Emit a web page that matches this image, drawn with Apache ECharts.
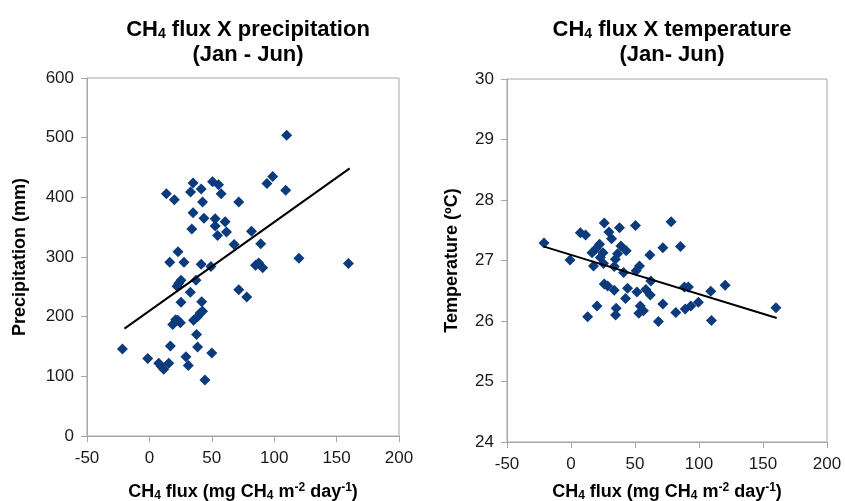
<!DOCTYPE html>
<html>
<head>
<meta charset="utf-8">
<script src="https://cdn.jsdelivr.net/npm/echarts@6/dist/echarts.min.js"></script>
<style>
  html, body { margin: 0; padding: 0; background: #fff; }
  #chart { width: 845px; height: 501px; }
</style>
</head>
<body>
<div id="chart"></div>
<script>
// CH4 flux vs precipitation (Jan - Jun)
const precipFlux = [110, 13.6, 20, 35, 41.5, 33, 50.6, 55.4, 57.5, 42.6, 71.6, 35, 43.7, 52.7, 60.7, 52.7, 34, 61.8, 54.6, 81.8,
  94.2, 98.8, 109.2, 67.9, 89.2, 22.9, 16.3, 27.7, 41.5, 49.3, 119.8, 159.5, 87.6, 85, 90.8, 25.3, 23.5, 22.1, 37.3, 32.8,
  25.3, 41.9, 71.6, 78, 22.7, 18.7, 24.8, 21, 35.4, 38.6, 40.7, 42.6, 37.8, 16.8, 38.6, 50, -21.6, -1.3, 29.3, 7.5,
  15.5, 11.5, 9.4, 31.2, 44.5];
const precipMm = [504, 406, 396, 424, 414, 409, 426, 421, 406, 392, 392, 374, 365, 364, 359, 352, 347, 342, 336, 343,
  423, 435, 412, 321, 322, 309, 291, 291, 288, 284, 298, 289, 290, 286, 282, 261, 256, 251, 261, 241,
  224, 225, 245, 233, 194, 187, 190, 195, 194, 200, 206, 209, 170, 151, 149, 139, 146, 130, 133, 122,
  122, 112, 117, 118, 94];
const precipTrendX = [-20, 160.5];
const precipTrendY = [180, 448.5];

// CH4 flux vs temperature (Jan - Jun)
const tempFlux = [-21.1, -0.8, 7.3, 11.4, 13, 20.3, 26, 29.6, 31.7, 37.9, 50.4, 78.2, 71.8, 85.5, 61.6, 22.3, 19.7, 16.4, 25, 22.9,
  17.6, 25.4, 39, 43.1, 36.4, 34.6, 33.8, 41.1, 53.5, 50.9, 62.4, 26, 28.6, 33.8, 44.2, 51.5, 58.5, 61.9, 42.6, 35.3,
  34.8, 54.1, 53, 56.6, 68.3, 71.8, 81.9, 88.6, 91.7, 89.2, 93.6, 99.5, 109.2, 109.7, 120.4, 160.1];
const tempC = [27.29, 27.01, 27.46, 27.42, 26.07, 26.25, 27.62, 27.47, 27.36, 27.54, 27.58, 27.64, 27.21, 27.23, 27.09, 27.27, 27.2, 27.13, 27.13, 27.05,
  26.91, 26.95, 27.24, 27.16, 27.11, 27.02, 26.9, 26.8, 26.91, 26.83, 26.66, 26.61, 26.58, 26.51, 26.54, 26.48, 26.52, 26.43, 26.37, 26.21,
  26.1, 26.25, 26.13, 26.17, 25.99, 26.28, 26.14, 26.56, 26.56, 26.2, 26.25, 26.31, 26.49, 26.01, 26.59, 26.22];
const tempTrendX = [-21, 160.7];
const tempTrendY = [27.23, 26.05];

const xTicks = { min: -50, max: 200, interval: 50 };

const FONT = 'Liberation Sans, Arial, Helvetica, sans-serif';
const MARK = '#0b3b7c';
const AXIS = '#a6a6a6';

const zip = (xs, ys) => xs.map((x, i) => [x, ys[i]]);

const titleRich = {
  a: { fontSize: 22, fontWeight: 'bold', fontFamily: FONT, color: '#000', lineHeight: 25 },
  s: { fontSize: 14, fontWeight: 'bold', fontFamily: FONT, color: '#000', lineHeight: 25, padding: [10, 0, 0, 0] }
};

const nameRich = {
  a: { fontSize: 18, fontWeight: 'bold', fontFamily: FONT, color: '#000', lineHeight: 22 },
  s: { fontSize: 12, fontWeight: 'bold', fontFamily: FONT, color: '#000', lineHeight: 22, padding: [8, 0, 0, 0] },
  p: { fontSize: 12, fontWeight: 'bold', fontFamily: FONT, color: '#000', lineHeight: 22, padding: [0, 0, 8, 0] }
};
const fluxName = '{a|CH}{s|4}{a| flux (mg CH}{s|4}{a| m}{p|-2}{a| day}{p|-1}{a|)}';

function xAxisFor(gridIndex, gap) {
  return {
    type: 'value',
    gridIndex: gridIndex,
    min: xTicks.min, max: xTicks.max, interval: xTicks.interval,
    name: fluxName,
    nameLocation: 'middle',
    nameGap: gap,
    nameTextStyle: { rich: nameRich },
    axisLine: { show: true, onZero: false, lineStyle: { color: AXIS, width: 1 } },
    axisTick: { show: true, inside: false, length: 6, lineStyle: { color: AXIS } },
    axisLabel: { fontSize: 17, fontFamily: FONT, color: '#1a1a1a', margin: 14 },
    splitLine: { show: false }
  };
}

function yAxisFor(gridIndex, min, max, interval, name, gap) {
  return {
    type: 'value',
    gridIndex: gridIndex,
    min: min, max: max, interval: interval,
    name: name,
    nameLocation: 'middle',
    nameGap: gap,
    nameTextStyle: { fontSize: 18, fontWeight: 'bold', fontFamily: FONT, color: '#000' },
    axisLine: { show: true, onZero: false, lineStyle: { color: AXIS, width: 1 } },
    axisTick: { show: true, inside: false, length: 6, lineStyle: { color: AXIS } },
    axisLabel: { fontSize: 17, fontFamily: FONT, color: '#1a1a1a', margin: 13 },
    splitLine: { show: false }
  };
}

const chart = echarts.init(document.getElementById('chart'));

const option = {
  animation: false,
  backgroundColor: '#fff',
  title: [
    {
      text: '{a|CH}{s|4}{a| flux X precipitation}\n{a|(Jan - Jun)}',
      left: 243, top: 12, textAlign: 'center',
      textStyle: { rich: titleRich }
    },
    {
      text: '{a|CH}{s|4}{a| flux X temperature}\n{a|(Jan- Jun)}',
      left: 667, top: 12, textAlign: 'center',
      textStyle: { rich: titleRich }
    }
  ],
  grid: [
    { left: 87, right: 446, top: 78, bottom: 65, outerBoundsMode: 'none', containLabel: false,
      show: true, borderColor: AXIS, borderWidth: 1, backgroundColor: 'transparent' },
    { left: 507, right: 18, top: 79, bottom: 59, outerBoundsMode: 'none', containLabel: false,
      show: true, borderColor: AXIS, borderWidth: 1, backgroundColor: 'transparent' }
  ],
  xAxis: [xAxisFor(0, 45), xAxisFor(1, 39)],
  yAxis: [
    yAxisFor(0, 0, 600, 100, 'Precipitation (mm)', 58),
    yAxisFor(1, 24, 30, 1, 'Temperature (ºC)', 46)
  ],
  series: [
    {
      type: 'scatter', xAxisIndex: 0, yAxisIndex: 0,
      symbol: 'diamond', symbolSize: 11,
      itemStyle: { color: MARK, opacity: 1 },
      data: zip(precipFlux, precipMm)
    },
    {
      type: 'line', xAxisIndex: 0, yAxisIndex: 0,
      symbol: 'none', lineStyle: { color: '#000', width: 2 },
      data: zip(precipTrendX, precipTrendY)
    },
    {
      type: 'scatter', xAxisIndex: 1, yAxisIndex: 1,
      symbol: 'diamond', symbolSize: 11,
      itemStyle: { color: MARK, opacity: 1 },
      data: zip(tempFlux, tempC)
    },
    {
      type: 'line', xAxisIndex: 1, yAxisIndex: 1,
      symbol: 'none', lineStyle: { color: '#000', width: 2 },
      data: zip(tempTrendX, tempTrendY)
    }
  ]
};

chart.setOption(option);
</script>
</body>
</html>
